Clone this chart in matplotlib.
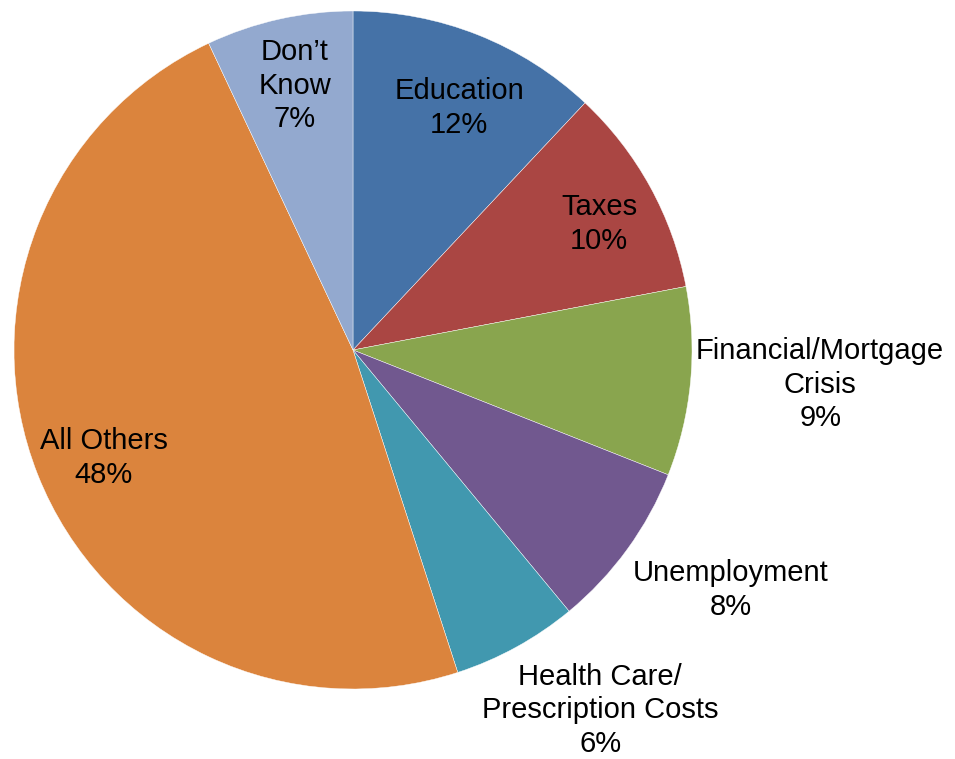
import matplotlib
matplotlib.use("Agg")
import matplotlib.pyplot as plt

# pie data, clockwise from 12 o'clock
categories = ["Education", "Taxes", "Financial/Mortgage\nCrisis", "Unemployment",
              "Health Care/\nPrescription Costs", "All Others", "Don\u2019t\nKnow"]
shares = [12, 10, 9, 8, 6, 48, 7]
colors = ["#4572A7", "#AA4643", "#89A54E", "#71588F", "#4198AF", "#DB843D", "#93A9CF"]

# label centres in data units (radius = 1)
label_pos = [(0.313, 0.714), (0.726, 0.372), (1.378, -0.103), (1.115, -0.708),
             (0.729, -1.062), (-0.735, -0.319), (-0.171, 0.779)]

plt.rcParams['font.family'] = ['Liberation Sans', 'DejaVu Sans']

W, H = 955, 759
cx, cy, R = 353, 350, 339

fig = plt.figure(figsize=(W / 100, H / 100), dpi=100)
ax = fig.add_axes([0, 0, 1, 1])

ax.pie(shares, colors=colors, startangle=90, counterclock=False,
       wedgeprops=dict(edgecolor="white", linewidth=0.3))

for name, val, (x, y) in zip(categories, shares, label_pos):
    ax.text(x, y, "%s\n%d%%" % (name, val), ha="center", va="center",
            fontsize=21, color="black", linespacing=1.25)

ax.set_xlim(-cx / R, (W - cx) / R)
ax.set_ylim(-(H - cy) / R, cy / R)
ax.set_aspect("auto")
ax.axis("off")

fig.savefig("out.png", dpi=100, facecolor="white")
